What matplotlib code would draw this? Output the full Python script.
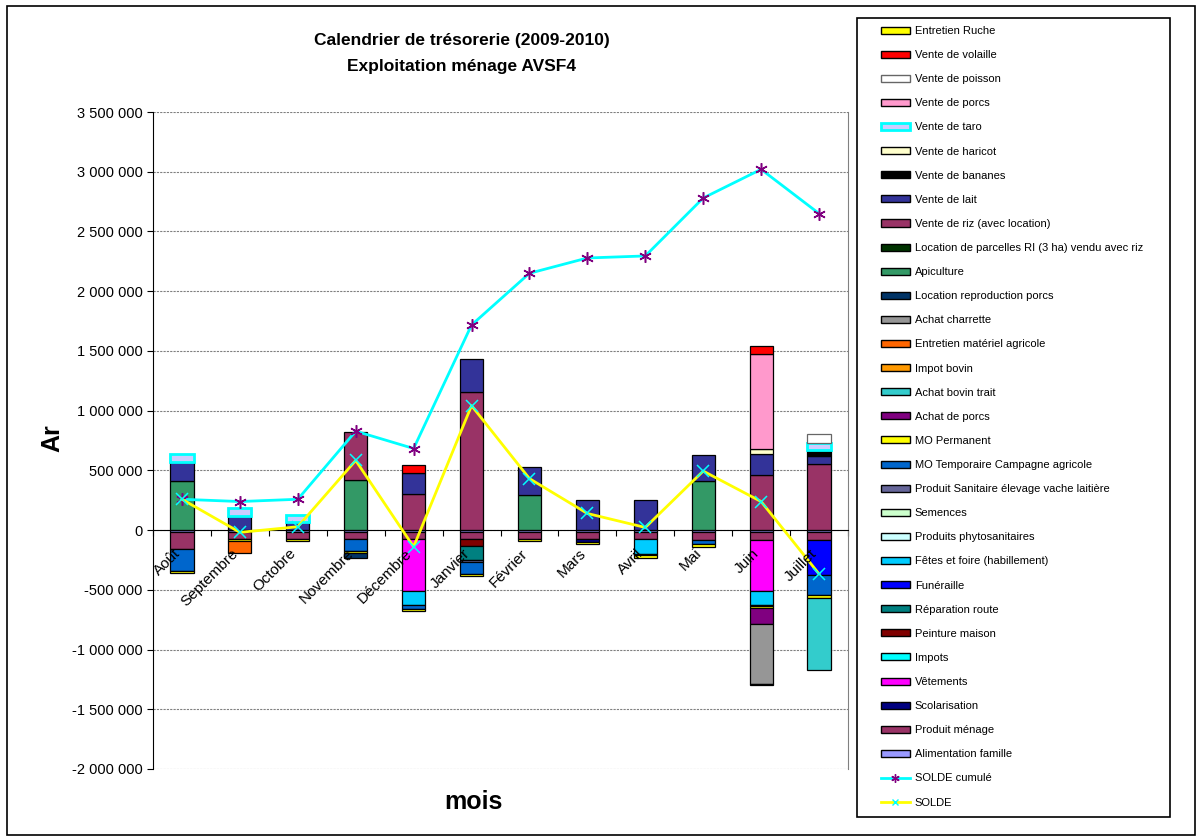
import numpy as np
import matplotlib.pyplot as plt
import matplotlib.transforms as mtransforms
from matplotlib.patches import Patch, Rectangle
from matplotlib.lines import Line2D
from matplotlib.ticker import FuncFormatter, MultipleLocator

plt.rcParams['font.family'] = ['Liberation Sans', 'DejaVu Sans']

mois = ["Août", "Septembre", "Octobre", "Novembre", "Décembre", "Janvier",
        "Février", "Mars", "Avril", "Mai", "Juin", "Juillet"]

# series in stacking order (first = nearest to zero), values in Ar
alimentation_famille = [-12000, -14000, -14000, -18000, -18000, -18000, -18000, -15000, -15000, -15000, -17000, -17000]
produit_menage = [-148000, -61000, -61000, -56000, -56000, -56000, -56000, -62000, -62000, -64000, -62000, -62000]
scolarisation = [0, 0, 0, 0, 0, 0, 0, -22000, 0, 0, 0, 0]
vetements = [0, 0, 0, 0, -436000, 0, 0, 0, 0, 0, -431000, 0]
impots = [0] * 12
peinture_maison = [0, 0, 0, 0, 0, -55000, 0, 0, 0, 0, 0, 0]
reparation_route = [0, 0, 0, 0, 0, -120000, 0, 0, 0, 0, 0, 0]
funeraille = [0, 0, 0, 0, 0, 0, 0, 0, 0, 0, 0, -300000]
fetes_foire = [0, 0, 0, 0, -114000, 0, 0, 0, -120000, 0, -114000, 0]
produits_phyto = [0] * 12
semences = [0] * 12
produit_sanitaire = [0, 0, 0, 0, 0, -20000, 0, 0, 0, 0, 0, 0]
mo_temporaire = [-181000, 0, 0, -97000, -33000, -97000, 0, 0, -15000, -39000, -10000, -167000]
mo_permanent = [-20000, -20000, -20000, -20000, -22000, -22000, -20000, -20000, -20000, -20000, -18000, -22000]
achat_porcs = [0, 0, 0, 0, 0, 0, 0, 0, 0, 0, -133000, 0]
achat_bovin_trait = [0, 0, 0, 0, 0, 0, 0, 0, 0, 0, 0, -603000]
impot_bovin = [0] * 12
entretien_materiel = [0, -100000, 0, 0, 0, 0, 0, 0, 0, 0, 0, 0]
achat_charrette = [0, 0, 0, 0, 0, 0, 0, 0, 0, 0, -500000, 0]
location_repro_porcs = [0, 0, 0, -45000, 0, 0, 0, 0, 0, 0, -11000, 0]
apiculture = [411000, 0, 0, 417000, 0, 0, 295000, 0, 0, 411000, 0, 0]
location_parcelles = [0] * 12
vente_riz = [0, 0, 0, 402000, 300000, 1158000, 0, 0, 0, 0, 458000, 556000]
vente_lait = [161000, 117000, 64000, 0, 180000, 275000, 233000, 256000, 256000, 220000, 181000, 64000]
vente_bananes = [0, 0, 0, 0, 0, 0, 0, 0, 0, 0, 0, 50000]
vente_haricot = [0, 0, 0, 0, 0, 0, 0, 0, 0, 0, 42000, 0]
vente_taro = [67000, 67000, 61000, 0, 0, 0, 0, 0, 0, 0, 0, 61000]
vente_porcs = [0, 0, 0, 0, 0, 0, 0, 0, 0, 0, 795000, 0]
vente_poisson = [0, 0, 0, 0, 0, 0, 0, 0, 0, 0, 0, 75000]
vente_volaille = [0, 0, 0, 0, 61000, 0, 0, 0, 0, 0, 67000, 0]
entretien_ruche = [0] * 12

solde = [258000, -19000, 28000, 583000, -140000, 1042000, 431000, 139000, 22000, 494000, 239000, -367000]
solde_cumule = [258000, 239000, 258000, 828000, 683000, 1717000, 2150000, 2278000, 2295000, 2780000, 3020000, 2650000]

series = [
    ("Alimentation famille", alimentation_famille, "#9999FF", "black"),
    ("Produit ménage", produit_menage, "#993366", "black"),
    ("Scolarisation", scolarisation, "#000080", "black"),
    ("Vêtements", vetements, "#FF00FF", "black"),
    ("Impots", impots, "#00FFFF", "black"),
    ("Peinture maison", peinture_maison, "#800000", "black"),
    ("Réparation route", reparation_route, "#008080", "black"),
    ("Funéraille", funeraille, "#0000FF", "black"),
    ("Fêtes et foire (habillement)", fetes_foire, "#00CCFF", "black"),
    ("Produits phytosanitaires", produits_phyto, "#CCFFFF", "black"),
    ("Semences", semences, "#CCFFCC", "black"),
    ("Produit Sanitaire élevage vache laitière", produit_sanitaire, "#666699", "black"),
    ("MO Temporaire Campagne agricole", mo_temporaire, "#0066CC", "black"),
    ("MO Permanent", mo_permanent, "#FFFF00", "black"),
    ("Achat de porcs", achat_porcs, "#800080", "black"),
    ("Achat bovin trait", achat_bovin_trait, "#33CCCC", "black"),
    ("Impot bovin", impot_bovin, "#FF9900", "black"),
    ("Entretien matériel agricole", entretien_materiel, "#FF6600", "black"),
    ("Achat charrette", achat_charrette, "#969696", "black"),
    ("Location reproduction porcs", location_repro_porcs, "#003366", "black"),
    ("Apiculture", apiculture, "#339966", "black"),
    ("Location de parcelles RI (3 ha) vendu avec riz", location_parcelles, "#003300", "black"),
    ("Vente de riz (avec location)", vente_riz, "#993366", "black"),
    ("Vente de lait", vente_lait, "#333399", "black"),
    ("Vente de bananes", vente_bananes, "#000000", "black"),
    ("Vente de haricot", vente_haricot, "#FFFFCC", "black"),
    ("Vente de taro", vente_taro, "#CCCCFF", "#00FFFF"),
    ("Vente de porcs", vente_porcs, "#FF99CC", "black"),
    ("Vente de poisson", vente_poisson, "#FFFFFF", "#666666"),
    ("Vente de volaille", vente_volaille, "#FF0000", "black"),
    ("Entretien Ruche", entretien_ruche, "#FFFF00", "black"),
]

W, H = 1201, 840
fig = plt.figure(figsize=(W / 100, H / 100), dpi=100)
ax = fig.add_axes([153 / W, 1 - 769 / H, 695 / W, 657 / H])

# axis crosses at zero (set before ticks, it resets them)
ax.spines["bottom"].set_position(("data", 0))
ax.spines["bottom"].set_zorder(3)
ax.spines["top"].set_visible(False)
ax.spines["right"].set_color("#808080")

x = np.arange(len(mois))
pos = np.zeros(len(mois))
neg = np.zeros(len(mois))
for name, vals, fc, ec in series:
    v = np.array(vals, dtype=float)
    bottom = np.where(v >= 0, pos, neg)
    lw = 2.0 if ec == "#00FFFF" else 0.9
    m = v != 0
    if m.any():
        ax.bar(x[m], v[m], bottom=bottom[m], width=0.4, color=fc,
               edgecolor=ec, linewidth=lw, zorder=2)
    pos = pos + np.where(v > 0, v, 0)
    neg = neg + np.where(v < 0, v, 0)

ax.plot(x, solde_cumule, color="#00FFFF", lw=2, zorder=4,
        marker=(6, 2, 0), markersize=9, markeredgecolor="#800080",
        markeredgewidth=1.1)
ax.plot(x, solde, color="#FFFF00", lw=2, zorder=4,
        marker="x", markersize=8, markeredgecolor="#00FFFF",
        markeredgewidth=1.1)

ax.set_xlim(-0.5, 11.5)
ax.set_ylim(-2000000, 3500000)
ax.yaxis.set_major_locator(MultipleLocator(500000))
ax.yaxis.set_major_formatter(FuncFormatter(lambda v, p: f"{v:,.0f}".replace(",", " ")))
ax.grid(axis="y", color="#808080", linestyle=(0, (2, 1)), lw=0.8, zorder=0)

ax.set_xticks(np.arange(-0.5, 12, 1))
ax.set_xticklabels([])
ax.tick_params(axis="x", which="major", length=4, direction="out", color="black")
ax.tick_params(axis="y", length=4, direction="out", labelsize=10.5)

# month labels drawn over the bars, like in the spreadsheet
lab_tr = mtransforms.offset_copy(ax.transData, fig=fig, x=-4, y=-21, units="dots")
for i, m in enumerate(mois):
    ax.text(i, 0, m, transform=lab_tr, rotation=45, ha="right", va="center",
            rotation_mode="anchor", fontsize=11, zorder=6, clip_on=False)

fig.text(462 / W, 1 - 41 / H, "Calendrier de trésorerie (2009-2010)",
         ha="center", va="center", fontsize=12.5, fontweight="bold")
fig.text(462 / W, 1 - 67 / H, "Exploitation ménage AVSF4",
         ha="center", va="center", fontsize=12.5, fontweight="bold")
fig.text(52 / W, 1 - 438 / H, "Ar", rotation=90, ha="center", va="center",
         fontsize=18, fontweight="bold")
fig.text(473 / W, 1 - 802 / H, "mois", ha="center", va="center",
         fontsize=18, fontweight="bold")

# legend (reversed order like Excel)
handles = []
labels = []
for name, vals, fc, ec in reversed(series):
    lw = 2.0 if ec == "#00FFFF" else 1.0
    handles.append(Patch(facecolor=fc, edgecolor=ec, linewidth=lw))
    labels.append(name)
handles.append(Line2D([], [], color="#00FFFF", lw=2, marker=(6, 2, 0),
                      markersize=6, markeredgecolor="#800080"))
labels.append("SOLDE cumulé")
handles.append(Line2D([], [], color="#FFFF00", lw=2, marker="x",
                      markersize=5, markeredgecolor="#00FFFF"))
labels.append("SOLDE")

fig.legend(handles, labels, loc="upper left",
           bbox_to_anchor=(881 / W, 1 - 26 / H), frameon=False,
           fontsize=8, labelspacing=1.27, handlelength=2.6,
           handleheight=0.6, handletextpad=0.45, borderpad=0,
           borderaxespad=0)

fig.patches.append(Rectangle((857 / W, 1 - 817 / H), (1170 - 857) / W,
                             (817 - 18) / H, transform=fig.transFigure,
                             fill=False, lw=1.2, ec="black"))
fig.patches.append(Rectangle((7 / W, 1 - 835 / H), (1195 - 7) / W,
                             (835 - 6) / H, transform=fig.transFigure,
                             fill=False, lw=1.2, ec="black"))

fig.savefig("out.png", dpi=100)
